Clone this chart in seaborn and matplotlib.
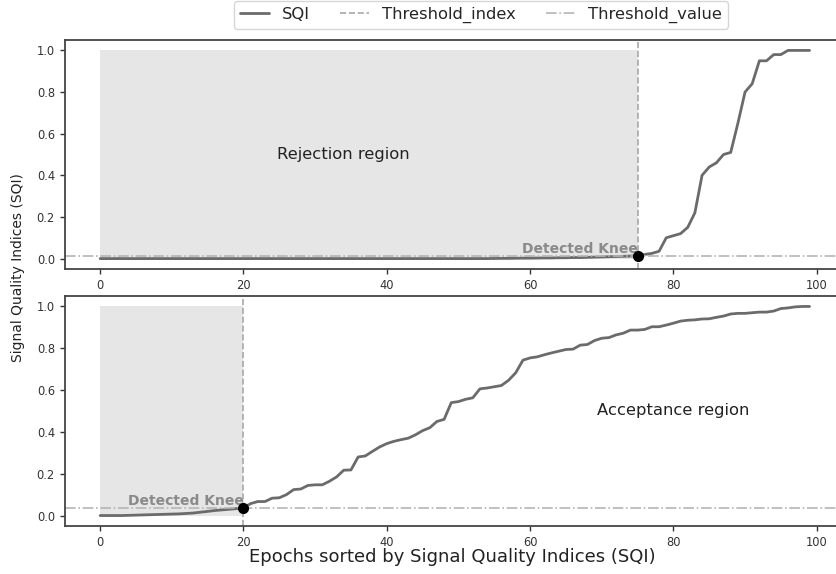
import numpy as np
import pandas as pd
import matplotlib
matplotlib.use("Agg")
import matplotlib.pyplot as plt
import seaborn as sns
from matplotlib.lines import Line2D

# ---- data ----
epochs = list(range(100))

sqi_top = ([0.0] * 55 +
           [0.0005, 0.001, 0.001, 0.0015, 0.002, 0.002, 0.0025, 0.003, 0.003, 0.004,
            0.004, 0.005, 0.005, 0.006, 0.007, 0.008, 0.009, 0.010, 0.011, 0.012] +
           [0.014, 0.02, 0.025, 0.035, 0.10, 0.11, 0.12, 0.15, 0.22, 0.40,
            0.44, 0.46, 0.50, 0.51, 0.65, 0.80, 0.84, 0.95, 0.95, 0.98,
            0.98, 1.0, 1.0, 1.0, 1.0])

sqi_bottom = [0.0, 0.0, 0.0, 0.0, 0.001, 0.002, 0.003, 0.004, 0.005, 0.006,
              0.007, 0.008, 0.010, 0.012, 0.016, 0.020, 0.024, 0.027, 0.030, 0.033,
              0.037, 0.057, 0.067, 0.067, 0.083, 0.085, 0.100, 0.124, 0.127, 0.144,
              0.147, 0.147, 0.164, 0.185, 0.217, 0.218, 0.280, 0.285, 0.307, 0.328,
              0.344, 0.355, 0.363, 0.370, 0.386, 0.406, 0.420, 0.450, 0.460, 0.540,
              0.545, 0.556, 0.563, 0.606, 0.610, 0.616, 0.622, 0.647, 0.683, 0.743,
              0.754, 0.759, 0.769, 0.778, 0.786, 0.794, 0.796, 0.815, 0.818, 0.837,
              0.848, 0.851, 0.864, 0.872, 0.887, 0.887, 0.890, 0.903, 0.903, 0.911,
              0.920, 0.930, 0.934, 0.936, 0.940, 0.941, 0.948, 0.954, 0.964, 0.967,
              0.967, 0.970, 0.973, 0.973, 0.978, 0.990, 0.993, 0.998, 1.000, 1.000]

knee_index = [75, 20]
knee_value = [0.014, 0.037]
region_labels = ["Rejection region", "Acceptance region"]
region_pos_x = [34, 80]
legend_labels = ["SQI", "Threshold_index", "Threshold_value"]
xlabel_text = "Epochs sorted by Signal Quality Indices (SQI)"
ylabel_text = "Signal Quality Indices (SQI)"

# ---- styling ----
sns.set_style("ticks")
plt.rcParams["font.family"] = ["DejaVu Sans"]

W, H = 837, 574
fig = plt.figure(figsize=(W / 100, H / 100), dpi=100)

left = 64.7 / W
width = (845 - 64.7) / W
ax_top = fig.add_axes([left, 1 - 269 / H, width, 229 / H])
ax_bot = fig.add_axes([left, 1 - 526 / H, width, 230 / H])

line_color = "#6b6b6b"
idx_color = "#a8a8a8"
val_color = "#b5b5b5"

for ax, sqi, ki, kv, rl, rx in zip([ax_top, ax_bot], [sqi_top, sqi_bottom],
                                   knee_index, knee_value, region_labels, region_pos_x):
    df = pd.DataFrame({"epoch": epochs, "sqi": sqi})
    xs = np.array(epochs[:ki + 1])
    ax.fill_between(xs, 0, 1, color="#d3d3d3", alpha=0.55, linewidth=0)
    sns.lineplot(data=df, x="epoch", y="sqi", ax=ax, color=line_color, linewidth=2)
    ax.axvline(ki, color=idx_color, linestyle="--", linewidth=1.2)
    ax.axhline(kv, color=val_color, linestyle="-.", linewidth=1.2)
    ax.plot([ki], [kv], "o", color="black", markersize=7, zorder=5)
    ax.text(ki, kv, "Detected Knee", ha="right", va="bottom", fontsize=10,
            fontweight="bold", color="#8a8a8a")
    ax.text(rx, 0.5, rl, ha="center", va="center", fontsize=11.8, color="#222222")
    ax.set_xlim(-4.95, 103.95)
    ax.set_ylim(-0.05, 1.05)
    ax.set_xticks([0, 20, 40, 60, 80, 100])
    ax.set_yticks([0.0, 0.2, 0.4, 0.6, 0.8, 1.0])
    ax.set_yticklabels(["0.0", "0.2", "0.4", "0.6", "0.8", "1.0"])
    ax.set_xlabel("")
    ax.set_ylabel("")
    ax.tick_params(labelsize=8.3, colors="#333333", length=3.5, width=1)
    for s in ax.spines.values():
        s.set_visible(True)
        s.set_color("#444444")
        s.set_linewidth(1.3)

fig.text(18 / W, 1 - 268 / H, ylabel_text, rotation=90, ha="center", va="center",
         fontsize=10, color="#222222")
fig.text(452 / W, 1 - 557 / H, xlabel_text, ha="center", va="center",
         fontsize=13, color="#222222")

handles = [Line2D([], [], color=line_color, linewidth=2),
           Line2D([], [], color=idx_color, linestyle="--", linewidth=1.2),
           Line2D([], [], color=val_color, linestyle="-.", linewidth=1.2)]
fig.legend(handles, legend_labels, loc="upper center", ncol=3,
           bbox_to_anchor=(481 / W, 1 - 1 / H), borderaxespad=0, fontsize=11.8,
           frameon=True, columnspacing=1.8, handlelength=1.8, borderpad=0.35)

fig.savefig("out.png", dpi=100)
